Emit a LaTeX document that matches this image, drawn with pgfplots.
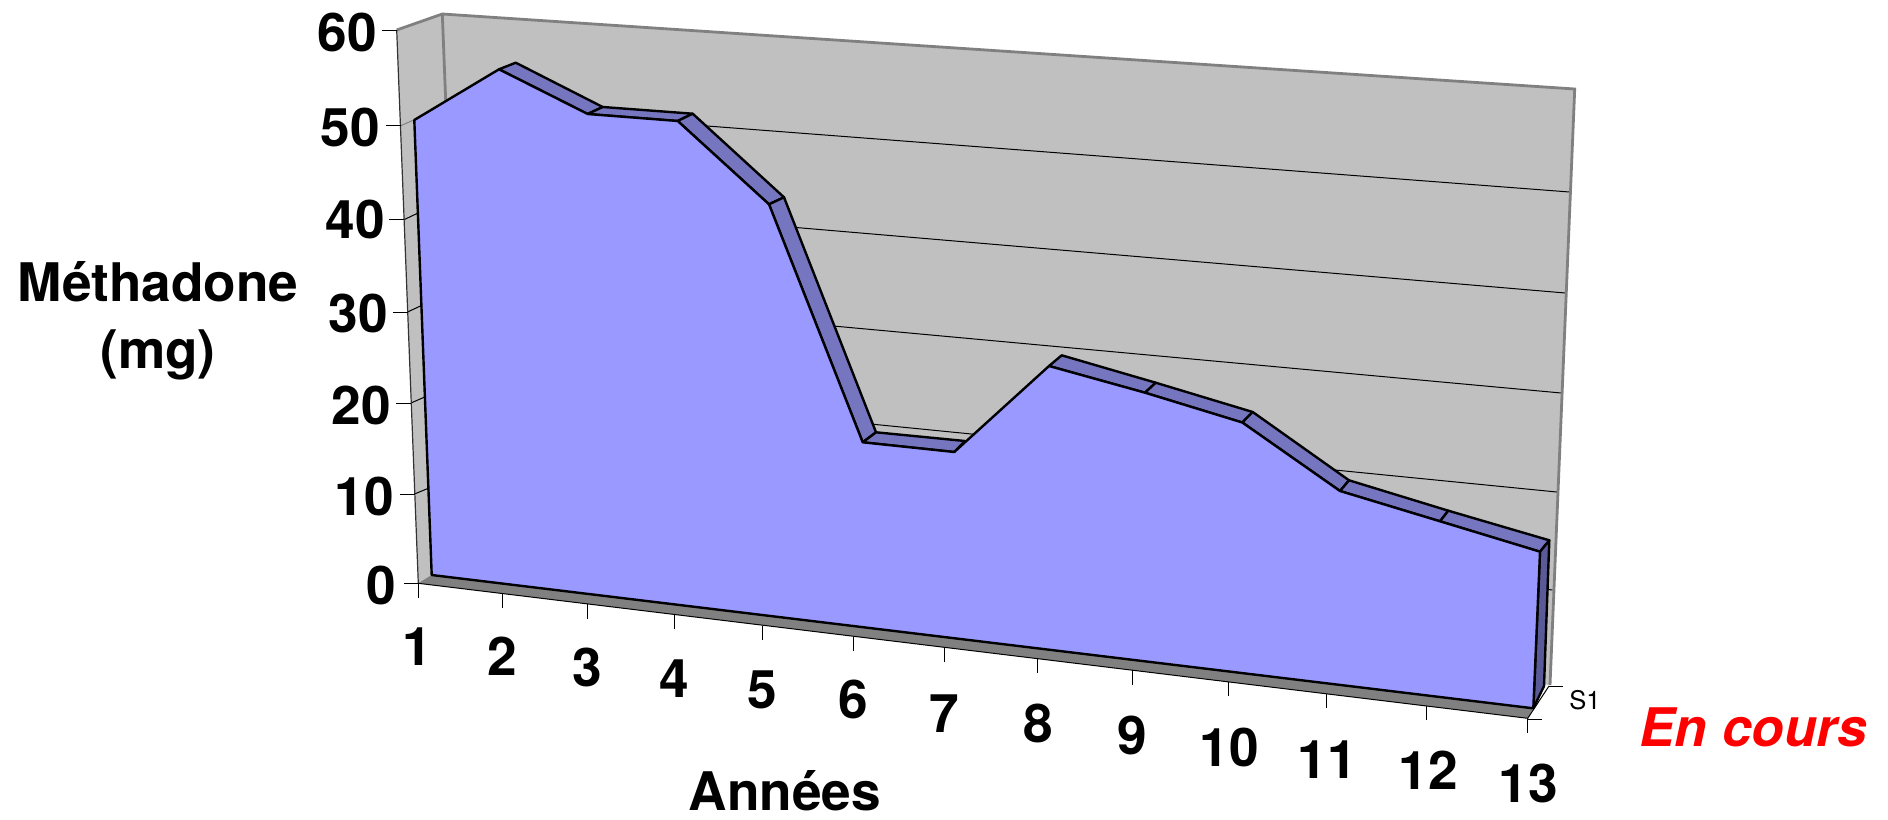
\documentclass[border=0pt]{standalone}
\usepackage{fontspec}
\setmainfont{TeX Gyre Heros}
\usepackage{pgfplots}
\pgfplotsset{compat=1.18}

\definecolor{wall}{HTML}{C0C0C0}
\definecolor{edge}{HTML}{808080}
\definecolor{front}{HTML}{9999FF}
\definecolor{topface}{HTML}{7676C0}
\definecolor{endface}{HTML}{5A5A99}

\newcommand{\lab}[3]{\node[anchor=base,inner sep=0pt] at (axis cs:#1,#2) {\fontsize{26.6}{30}\selectfont\bfseries #3};}

\begin{document}
\begin{tikzpicture}
% perspective drawing: all coordinates are picture positions
\begin{axis}[
  hide axis,
  scale only axis,
  width=944pt, height=409.5pt,
  xmin=0, xmax=1888,
  ymin=0, ymax=819,
  y dir=reverse,
  clip=false,
  axis line style={draw=none},
  grid line/.style={draw=black, line width=0.5pt, no markers},
  tk/.style={draw=black, line width=0.5pt, no markers},
  face/.style={draw=black, fill=topface, line width=1.2pt, line join=round, no markers},
]
% invisible frame keeps the page at full size
\addplot[draw=none, no markers, forget plot] coordinates {(0,0) (1888,819)};

% side wall and back wall
\addplot[fill=wall, draw=none, no markers] coordinates {(396.7,30) (442.3,14) (464,567) (418.3,583.3)} -- cycle;
\addplot[fill=wall, draw=none, no markers] coordinates {(442.3,14) (1574.7,89) (1550,685) (464,567)} -- cycle;

% gridlines, back wall (10 to 50)
\addplot[grid line] coordinates {(445.9,106) (1569.5,192)};
\addplot[grid line] coordinates {(449.5,198) (1565.3,293)};
\addplot[grid line] coordinates {(453,291) (1561.2,393)};
\addplot[grid line] coordinates {(456.7,383) (1556.8,492)};
\addplot[grid line] coordinates {(460.3,475) (1552.5,590)};
% gridlines, side wall
\addplot[draw=edge, line width=0.5pt, no markers] coordinates {(400.7,125.7) (445.9,106)};
\addplot[draw=black, line width=0.5pt, no markers] coordinates {(404,219.7) (449.5,198)};
\addplot[draw=black, line width=0.5pt, no markers] coordinates {(407.5,312) (453,291)};
\addplot[draw=black, line width=0.5pt, no markers] coordinates {(411,403) (456.7,383)};
\addplot[draw=black, line width=0.5pt, no markers] coordinates {(414.5,494) (460.3,475)};

% wall edges
\addplot[draw=edge, line width=1.4pt, no markers] coordinates {(396.7,30) (442.3,14) (1574.7,89) (1550,685)};
\addplot[draw=edge, line width=1.4pt, no markers] coordinates {(442.3,14) (464,567)};
\addplot[draw=black!80, line width=0.6pt, no markers] coordinates {(396.7,30) (418.3,583.3)};

% floor
\addplot[fill=edge, draw=none, no markers] coordinates {(418.3,583.3) (431.7,575) (1533.3,708.3) (1527.7,718.3)} -- cycle;
\addplot[draw=black, line width=0.5pt, no markers] coordinates {(418.3,583.3) (1527.7,718.3) (1549,686)};

% top faces of the area, front edge then back edge
\addplot[face] coordinates {(499,69.3) (587.7,114) (602.7,107) (515.7,62.7)} -- cycle;
\addplot[face] coordinates {(587.7,114) (677.7,121) (692.7,113.7) (602.7,107)} -- cycle;
\addplot[face] coordinates {(677.7,121) (769,204.3) (784,197.3) (692.7,113.7)} -- cycle;
\addplot[face] coordinates {(769,204.3) (862.7,442.3) (876,432.3) (784,197.3)} -- cycle;
\addplot[face] coordinates {(862.7,442.3) (954.3,452) (965,441) (876,432.3)} -- cycle;
\addplot[face] coordinates {(1049,366) (1145,392.7) (1155.7,382.7) (1061.7,355.3)} -- cycle;
\addplot[face] coordinates {(1145,392.7) (1242.3,422.5) (1252.7,412) (1155.7,382.7)} -- cycle;
\addplot[face] coordinates {(1242.3,422.5) (1340,491) (1349,480.3) (1252.7,412)} -- cycle;
\addplot[face] coordinates {(1340,491) (1440,521.3) (1448.3,510.7) (1349,480.3)} -- cycle;
\addplot[face] coordinates {(1440,521.3) (1540,551.7) (1549.3,540.3) (1448.3,510.7)} -- cycle;
% end face
\addplot[face, fill=endface] coordinates {(1540,551.7) (1549.3,540.3) (1544,686) (1533.3,708.3)} -- cycle;

% front of the area, years 1 to 13
\addplot[fill=front, draw=black, line width=1.2pt, line join=round, no markers] coordinates {
  (414.3,120) (499,69.3) (587.7,114) (677.7,121) (769,204.3) (862.7,442.3) (954.3,452)
  (1049,366) (1145,392.7) (1242.3,422.5) (1340,491) (1440,521.3) (1540,551.7)
  (1533.3,708.3) (431.7,575)} -- cycle;

% value axis ticks
\addplot[tk] coordinates {(381.7,30) (396.7,30)};
\addplot[tk] coordinates {(385.7,125.7) (400.7,125.7)};
\addplot[tk] coordinates {(389.3,219.7) (404,219.7)};
\addplot[tk] coordinates {(392.8,312) (407.5,312)};
\addplot[tk] coordinates {(396.3,403) (411,403)};
\addplot[tk] coordinates {(399.8,494) (414.5,494)};
\addplot[tk] coordinates {(404,583.3) (418.3,583.3)};
% year axis ticks
\addplot[tk] coordinates {(418.3,583.3) (418.3,597.6)};
\addplot[tk] coordinates {(502.3,593.7) (502.3,608)};
\addplot[tk] coordinates {(587.3,604.3) (587.3,618.6)};
\addplot[tk] coordinates {(674.3,614.8) (674.3,629.1)};
\addplot[tk] coordinates {(762.7,625.6) (762.7,639.9)};
\addplot[tk] coordinates {(853,636.5) (853,650.8)};
\addplot[tk] coordinates {(944,647.5) (944,661.8)};
\addplot[tk] coordinates {(1037,658.8) (1037,673.1)};
\addplot[tk] coordinates {(1132,670.4) (1132,684.7)};
\addplot[tk] coordinates {(1228,682) (1228,696.3)};
\addplot[tk] coordinates {(1326,694) (1326,708.3)};
\addplot[tk] coordinates {(1426,706) (1426,720.3)};
\addplot[tk] coordinates {(1527.7,718.3) (1527.7,732.6)};
% series axis ticks
\addplot[tk] coordinates {(1527.7,719) (1541.7,719)};
\addplot[tk] coordinates {(1549,686) (1563.3,686)};

% value labels
\node[anchor=base east,inner sep=0pt] at (axis cs:377,51) {\fontsize{26.6}{30}\selectfont\bfseries 60};
\node[anchor=base east,inner sep=0pt] at (axis cs:380,146) {\fontsize{26.6}{30}\selectfont\bfseries 50};
\node[anchor=base east,inner sep=0pt] at (axis cs:385,238.5) {\fontsize{26.6}{30}\selectfont\bfseries 40};
\node[anchor=base east,inner sep=0pt] at (axis cs:388,332.5) {\fontsize{26.6}{30}\selectfont\bfseries 30};
\node[anchor=base east,inner sep=0pt] at (axis cs:391,424.5) {\fontsize{26.6}{30}\selectfont\bfseries 20};
\node[anchor=base east,inner sep=0pt] at (axis cs:394,515.5) {\fontsize{26.6}{30}\selectfont\bfseries 10};
\node[anchor=base east,inner sep=0pt] at (axis cs:396,604.5) {\fontsize{26.6}{30}\selectfont\bfseries 0};
% year labels
\lab{417.5}{665.8}{1}
\lab{502}{675.8}{2}
\lab{587.3}{686.8}{3}
\lab{674.3}{697.2}{4}
\lab{762.7}{708.5}{5}
\lab{853}{718.5}{6}
\lab{944}{732.5}{7}
\lab{1038}{742.5}{8}
\lab{1132}{754.5}{9}
\lab{1229}{766.5}{10}
\lab{1327}{778.5}{11}
\lab{1428}{789.5}{12}
\lab{1528}{802}{13}
% titles
\lab{158}{301}{Méthadone}
\lab{158}{368}{(mg)}
\lab{785}{810}{Années}
\node[anchor=base,inner sep=0pt] at (axis cs:1585,709.3) {\fontsize{12.8}{14}\selectfont S1};
\node[anchor=base,inner sep=0pt,text=red] at (axis cs:1753,746.7) {\fontsize{26.6}{30}\selectfont\bfseries\itshape En cours};
\end{axis}
\end{tikzpicture}
\end{document}
